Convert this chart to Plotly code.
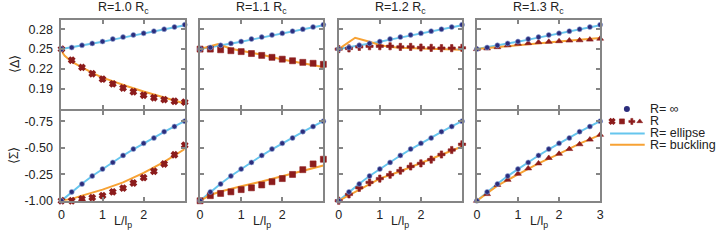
import plotly.graph_objects as go

# ---------------- data ----------------
L = [0, 0.25, 0.5, 0.75, 1.0, 1.25, 1.5, 1.75, 2.0, 2.25, 2.5, 2.75, 3.0]

titles = ["R=1.0 R<sub>c</sub>", "R=1.1 R<sub>c</sub>", "R=1.2 R<sub>c</sub>", "R=1.3 R<sub>c</sub>"]
r_symbols = ["x", "square", "cross", "triangle-up"]
r_sizes = [5, 6, 6, 6]
r_lw = [1.6, 0.6, 0.6, 0.6]

# <Delta>
delta_inf = [0.25, 0.2524, 0.2557, 0.2586, 0.2614, 0.2652, 0.2681, 0.2714, 0.2738, 0.2771, 0.2800, 0.2833, 0.2867]
delta_ellipse = [0.25, 0.2526, 0.2553, 0.2582, 0.2612, 0.2643, 0.2675, 0.2706, 0.2737, 0.2768, 0.2800, 0.2830, 0.2860]
delta_R = [
    [0.25, 0.2333, 0.2224, 0.2129, 0.2048, 0.1976, 0.1914, 0.1857, 0.1805, 0.1767, 0.1738, 0.1714, 0.1700],
    [0.25, 0.2500, 0.2490, 0.2476, 0.2462, 0.2433, 0.2405, 0.2376, 0.2348, 0.2324, 0.2300, 0.2286, 0.2271],
    [0.25, 0.2510, 0.2533, 0.2543, 0.2543, 0.2543, 0.2533, 0.2533, 0.2524, 0.2519, 0.2514, 0.2514, 0.2519],
    [0.25, 0.2510, 0.2529, 0.2557, 0.2581, 0.2590, 0.2605, 0.2610, 0.2619, 0.2629, 0.2633, 0.2643, 0.2657],
]
delta_buck_x = [
    [0, 0.03, 0.08, 0.15, 0.25, 0.4, 0.6, 0.8, 1.0, 1.3, 1.6, 2.0, 2.5, 3.0],
    [0, 0.44, 0.75, 1.0, 1.5, 2.0, 2.5, 3.0],
    [0, 0.40, 0.75, 1.0, 1.25, 1.5, 2.0, 2.5, 3.0],
    [0, 0.5, 1.0, 1.5, 2.0, 2.5, 3.0],
]
delta_buck_y = [
    [0.25, 0.2445, 0.2400, 0.2360, 0.2310, 0.2260, 0.2190, 0.2125, 0.2070, 0.2000, 0.1940, 0.1860, 0.1770, 0.1680],
    [0.25, 0.2575, 0.2505, 0.2476, 0.2414, 0.2343, 0.2290, 0.2229],
    [0.25, 0.2671, 0.2610, 0.2562, 0.2533, 0.2519, 0.2510, 0.2500, 0.2490],
    [0.25, 0.2531, 0.2562, 0.2590, 0.2615, 0.2641, 0.2667],
]

# <Sigma> (plotted on the axis position scale of the figure)
sigma_inf = [-1.0, -0.9164, -0.8417, -0.7670, -0.7013, -0.6386, -0.5729, -0.5131, -0.4594, -0.4086, -0.3489, -0.3010, -0.2503]
sigma_ellipse = [-1.0, -0.918, -0.840, -0.767, -0.700, -0.636, -0.574, -0.515, -0.459, -0.404, -0.351, -0.300, -0.250]
sigma_R = [
    [-1.0, -1.0, -0.982, -0.970, -0.952, -0.916, -0.881, -0.833, -0.782, -0.722, -0.653, -0.567, -0.477],
    [-1.0, -0.952, -0.931, -0.916, -0.895, -0.878, -0.851, -0.821, -0.791, -0.752, -0.707, -0.653, -0.609],
    [-1.0, -0.940, -0.878, -0.827, -0.791, -0.755, -0.716, -0.677, -0.648, -0.612, -0.564, -0.522, -0.468],
    [-1.0, -0.937, -0.851, -0.803, -0.746, -0.695, -0.648, -0.597, -0.558, -0.513, -0.468, -0.424, -0.379],
]
sigma_buck_x = [
    [0, 0.25, 0.5, 1.0, 1.5, 2.0, 2.5, 3.0],
    [0, 0.25, 0.5, 0.75, 1.0, 1.5, 2.0, 2.5, 3.0],
    [0, 0.5, 1.0, 1.5, 2.0, 2.5, 3.0],
    [0, 0.5, 1.0, 1.5, 2.0, 2.5, 3.0],
]
sigma_buck_y = [
    [-1.0, -0.982, -0.952, -0.895, -0.827, -0.737, -0.633, -0.513],
    [-1.0, -0.945, -0.913, -0.886, -0.863, -0.818, -0.767, -0.719, -0.668],
    [-1.0, -0.892, -0.791, -0.722, -0.648, -0.567, -0.489],
    [-1.0, -0.857, -0.752, -0.648, -0.558, -0.462, -0.379],
]

delta_ticks = [0.19, 0.22, 0.25, 0.28]
delta_ticktext = ["0.19", "0.22", "0.25", "0.28"]
sigma_ticks = [-1.0, -0.75, -0.5, -0.25]
sigma_ticktext = ["-1.00", "-0.25", "-0.50", "-0.75"]

legend_labels = ["R= ∞", "R", "R= ellipse", "R= buckling"]

# ---------------- style ----------------
W, H = 722, 244
NAVY = "#2b2d7c"
RED = "#8c1c1c"
BLUE = "#66c6ee"
ORANGE = "#f7a234"
AXC = "#858585"
TXT = "#222222"
FONT = "Liberation Sans, Arial, sans-serif"

lefts = [59, 199, 339, 478.5]
pw = 124.5
top_y = (20.3, 112.0)
bot_y = (114.0, 206.7)


def px_x(x):
    return x / W


def px_y(y):
    return 1 - y / H


fig = go.Figure()

axis_common = dict(showline=True, linecolor=AXC, linewidth=2, mirror="ticks",
                   ticks="inside", ticklen=4, tickwidth=1.5, tickcolor=AXC,
                   showgrid=False, zeroline=False,
                   tickfont=dict(family=FONT, size=12.5, color=TXT))

layout = {}
for i in range(4):
    xa_top = 2 * i + 1
    xa_bot = 2 * i + 2
    dom = [px_x(lefts[i]), px_x(lefts[i] + pw)]
    for row, yr in (("top", top_y), ("bot", bot_y)):
        n = xa_top if row == "top" else xa_bot
        xname = "xaxis" if n == 1 else f"xaxis{n}"
        yname = "yaxis" if n == 1 else f"yaxis{n}"
        xt = ["0", "1", "2", "3"] if i == 3 else ["0", "1", "2", ""]
        layout[xname] = dict(axis_common, domain=dom, range=[0, 3],
                             tickvals=[0, 1, 2, 3], ticktext=xt,
                             showticklabels=(row == "bot"), ticklabelstandoff=1,
                             anchor=f"y{'' if n == 1 else n}")
        ydom = [px_y(yr[1]), px_y(yr[0])]
        if row == "top":
            yd = dict(range=[0.16, 0.2943], tickvals=delta_ticks, ticktext=delta_ticktext)
        else:
            yd = dict(range=[-1.0, -0.152], tickvals=sigma_ticks, ticktext=sigma_ticktext)
        layout[yname] = dict(axis_common, domain=ydom, showticklabels=(i == 0),
                             ticklabelstandoff=4,
                             anchor=f"x{'' if n == 1 else n}", **yd)

    for row, n in (("top", xa_top), ("bot", xa_bot)):
        xr = "x" if n == 1 else f"x{n}"
        yr_ = "y" if n == 1 else f"y{n}"
        if row == "top":
            ell, inf, rr, bx, by = delta_ellipse, delta_inf, delta_R[i], delta_buck_x[i], delta_buck_y[i]
        else:
            ell, inf, rr, bx, by = sigma_ellipse, sigma_inf, sigma_R[i], sigma_buck_x[i], sigma_buck_y[i]
        fig.add_trace(go.Scatter(x=L, y=ell, mode="lines", line=dict(color=BLUE, width=2),
                                 xaxis=xr, yaxis=yr_, showlegend=False, cliponaxis=False))
        fig.add_trace(go.Scatter(x=bx, y=by, mode="lines", line=dict(color=ORANGE, width=2),
                                 xaxis=xr, yaxis=yr_, showlegend=False, cliponaxis=False))
        fig.add_trace(go.Scatter(x=L, y=rr, mode="markers",
                                 marker=dict(symbol=r_symbols[i], color=RED, size=r_sizes[i],
                                             line=dict(width=r_lw[i], color=RED)),
                                 xaxis=xr, yaxis=yr_, showlegend=False, cliponaxis=False))
        fig.add_trace(go.Scatter(x=L, y=inf, mode="markers",
                                 marker=dict(symbol="circle", color=NAVY, size=5,
                                             line=dict(width=0.6, color="#8fa6d8")),
                                 xaxis=xr, yaxis=yr_, showlegend=False, cliponaxis=False))

# legend axis (pixel coordinates of the whole figure)
layout["xaxis9"] = dict(domain=[0, 1], range=[0, W], visible=False, anchor="y9", fixedrange=True)
layout["yaxis9"] = dict(domain=[0, 1], range=[H, 0], visible=False, anchor="x9", fixedrange=True)
fig.add_trace(go.Scatter(x=[630], y=[112.3], mode="markers",
                         marker=dict(symbol="circle", color=NAVY, size=6),
                         xaxis="x9", yaxis="y9", showlegend=False, hoverinfo="skip"))
fig.add_trace(go.Scatter(x=[615, 625, 635, 643], y=[125, 125, 125, 125], mode="markers",
                         marker=dict(symbol=r_symbols, color=RED, size=5,
                                     line=dict(width=[1.2, 0.6, 0.6, 0.6], color=RED)),
                         xaxis="x9", yaxis="y9", showlegend=False, hoverinfo="skip"))
fig.add_trace(go.Scatter(x=[613, 648], y=[137.5, 137.5], mode="lines",
                         line=dict(color=BLUE, width=2),
                         xaxis="x9", yaxis="y9", showlegend=False, hoverinfo="skip"))
fig.add_trace(go.Scatter(x=[613, 648], y=[149, 149], mode="lines",
                         line=dict(color=ORANGE, width=2),
                         xaxis="x9", yaxis="y9", showlegend=False, hoverinfo="skip"))

annotations = []
for i, lab in enumerate(legend_labels):
    annotations.append(dict(x=px_x(652), y=px_y([112, 124.5, 137, 149][i]), xref="paper", yref="paper",
                            text=lab, showarrow=False, xanchor="left", yanchor="middle",
                            borderpad=0,
                            font=dict(family=FONT, size=12.5, color=TXT)))
for i in range(4):
    annotations.append(dict(x=px_x(lefts[i] + pw / 2), y=px_y(8), xref="paper", yref="paper",
                            text=titles[i], showarrow=False, xanchor="center", yanchor="middle",
                            font=dict(family=FONT, size=12.5, color=TXT)))
    annotations.append(dict(x=px_x(lefts[i] + pw / 2), y=px_y(229), xref="paper", yref="paper",
                            text="L/l<sub>p</sub>", showarrow=False, xanchor="center", yanchor="middle",
                            font=dict(family=FONT, size=12.5, color=TXT)))
annotations.append(dict(x=px_x(12), y=px_y(66), xref="paper", yref="paper", text="⟨Δ⟩",
                        showarrow=False, textangle=-90, xanchor="center", yanchor="middle",
                        font=dict(family=FONT, size=12.5, color=TXT)))
annotations.append(dict(x=px_x(12), y=px_y(160), xref="paper", yref="paper", text="⟨Σ⟩",
                        showarrow=False, textangle=-90, xanchor="center", yanchor="middle",
                        font=dict(family=FONT, size=12.5, color=TXT)))

fig.update_layout(width=W, height=H, margin=dict(l=0, r=0, t=0, b=0),
                  paper_bgcolor="white", plot_bgcolor="rgba(0,0,0,0)",
                  annotations=annotations, showlegend=False, **layout)

post_js = (
    "var de=document.documentElement, b=document.body;"
    "de.style.margin='0'; de.style.padding='0'; de.style.overflow='hidden'; de.style.height='244px';"
    "b.style.margin='0'; b.style.padding='0'; b.style.overflow='hidden'; b.style.height='244px';"
    "var gd=document.getElementById('{plot_id}');"
    "gd.style.display='block';"
    "if(gd.parentElement){gd.parentElement.style.lineHeight='0'; gd.parentElement.style.height='244px';"
    "gd.parentElement.style.overflow='hidden';}"
    "document.querySelectorAll('.svg-container').forEach(function(e){e.style.display='block';});"
)

fig.write_html("out.html", config={"displayModeBar": False}, post_script=post_js)
